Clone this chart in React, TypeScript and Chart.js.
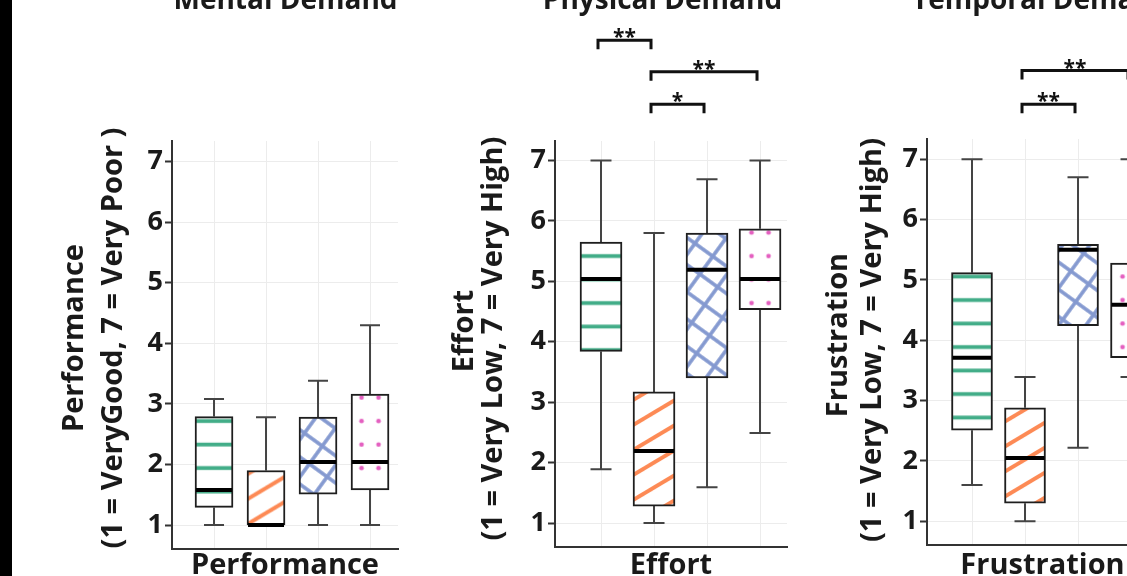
import React, { useEffect, useRef } from 'react';
import { Chart, registerables } from 'chart.js';

Chart.register(...registerables);

// ---------- data ----------
const groups = [1, 2, 3, 4];
const yTickValues = [1, 2, 3, 4, 5, 6, 7];

const panelTitles = ['Mental Demand', 'Physical Demand', 'Temporal Demand'];
const xTitles = ['Performance', 'Effort', 'Frustration'];
const yTitleLine1 = ['Performance', 'Effort', 'Frustration'];
const yTitleLine2 = [
  '(1 = VeryGood, 7 = Very Poor )',
  '(1 = Very Low, 7 = Very High)',
  '(1 = Very Low, 7 = Very High)',
];

const performanceMin = [1.0, 1.0, 1.0, 1.0];
const performanceQ1 = [1.29, 1.0, 1.51, 1.58];
const performanceMedian = [1.58, 1.0, 2.04, 2.04];
const performanceQ3 = [2.79, 1.9, 2.78, 3.16];
const performanceMax = [3.08, 2.78, 3.38, 4.3];

const effortMin = [1.89, 1.0, 1.59, 2.49];
const effortQ1 = [3.84, 1.28, 3.4, 4.53];
const effortMedian = [5.04, 2.19, 5.19, 5.04];
const effortQ3 = [5.65, 3.17, 5.8, 5.87];
const effortMax = [7.0, 5.8, 6.69, 7.0];

const frustrationMin = [1.6, 1.0, 2.22, 3.39];
const frustrationQ1 = [2.51, 1.3, 4.24, 3.71];
const frustrationMedian = [3.71, 2.05, 5.5, 4.59];
const frustrationQ3 = [5.12, 2.88, 5.59, 5.28];
const frustrationMax = [7.0, 3.39, 6.7, 7.0];

// significance brackets: [from group, to group, level (axis units), label]
const performanceBrackets: [number, number, number, string][] = [];
const effortBrackets: [number, number, number, string][] = [
  [1, 2, 8.99, '**'],
  [2, 4, 8.47, '**'],
  [2, 3, 7.93, '*'],
];
const frustrationBrackets: [number, number, number, string][] = [
  [2, 4, 8.47, '**'],
  [2, 3, 7.91, '**'],
];

// ---------- styling / layout ----------
const FONT = "'Open Sans', 'DejaVu Sans', sans-serif";
const TEXT = '#1a1a1a';
const AXIS = '#333333';
const GRID = '#ececec';
const WHISKER = '#444444';
const BORDER = '#1e1e1e';
const GREEN = '#42ad88';
const ORANGE = '#fd8a55';
const BLUE = '#8499d0';
const PINK = '#e45fc0';
const CANVAS_W = 1300;
const CANVAS_H = 620;

type Stats = { min: number[]; q1: number[]; med: number[]; q3: number[]; max: number[] };

interface PanelCfg {
  stats: Stats;
  brackets: [number, number, number, string][];
  title: string;
  titleX: number;
  titleAlign: CanvasTextAlign;
  xTitle: string;
  y1: string;
  y2: string;
  y1X: number;
  y2X: number;
  y1Y: number;
  y2Y: number;
  chartLeft: number;
  chartRight: number;
  chartTop: number;
  chartBottom: number;
  xMin: number;
  xMax: number;
  yMin: number;
  yMax: number;
  barPx: number;
  capPx: number;
  phase: number;
}

const panels: PanelCfg[] = [
  {
    stats: { min: performanceMin, q1: performanceQ1, med: performanceMedian, q3: performanceQ3, max: performanceMax },
    brackets: performanceBrackets,
    title: panelTitles[0], titleX: 285.5, titleAlign: 'center',
    xTitle: xTitles[0], y1: yTitleLine1[0], y2: yTitleLine2[0],
    y1X: 83, y2X: 121.5, y1Y: 338, y2Y: 338,
    chartLeft: 172, chartRight: 398, chartTop: 141, chartBottom: 549,
    xMin: 0.192, xMax: 4.538, yMin: 0.604, yMax: 7.34,
    barPx: 38, capPx: 20, phase: 21.5,
  },
  {
    stats: { min: effortMin, q1: effortQ1, med: effortMedian, q3: effortQ3, max: effortMax },
    brackets: effortBrackets,
    title: panelTitles[1], titleX: 662.5, titleAlign: 'center',
    xTitle: xTitles[1], y1: yTitleLine1[1], y2: yTitleLine2[1],
    y1X: 473, y2X: 502, y1Y: 331, y2Y: 338.6,
    chartLeft: 555, chartRight: 787, chartTop: 141, chartBottom: 547,
    xMin: 0.132, xMax: 4.509, yMin: 0.603, yMax: 7.323,
    barPx: 42, capPx: 21, phase: 21,
  },
  {
    stats: { min: frustrationMin, q1: frustrationQ1, med: frustrationMedian, q3: frustrationQ3, max: frustrationMax },
    brackets: frustrationBrackets,
    title: panelTitles[2], titleX: 912, titleAlign: 'left',
    xTitle: xTitles[2], y1: yTitleLine1[2], y2: yTitleLine2[2],
    y1X: 846.5, y2X: 881, y1Y: 335, y2Y: 340,
    chartLeft: 927, chartRight: 1158, chartTop: 139, chartBottom: 545,
    xMin: 0.151, xMax: 4.509, yMin: 0.606, yMax: 7.336,
    barPx: 41, capPx: 21, phase: 18,
  },
];

// ---------- fill patterns ----------
function makeTile(w: number, h: number, draw: (g: CanvasRenderingContext2D) => void) {
  const c = document.createElement('canvas');
  c.width = w;
  c.height = h;
  const g = c.getContext('2d')!;
  g.fillStyle = '#ffffff';
  g.fillRect(0, 0, w, h);
  draw(g);
  return c;
}

function makePattern(ctx: CanvasRenderingContext2D, kind: number, cx: number, phase: number): CanvasPattern | string {
  let tile: HTMLCanvasElement;
  let m = new DOMMatrix();
  if (kind === 0) {
    tile = makeTile(8, 47, (g) => {
      g.fillStyle = GREEN;
      g.fillRect(0, 11.75 - 1.9, 8, 3.8);
      g.fillRect(0, 35.25 - 1.9, 8, 3.8);
    });
    m = m.translate(0, phase - 11.75);
  } else if (kind === 1) {
    const W = 42;
    const H = 25;
    tile = makeTile(W, H, (g) => {
      g.strokeStyle = ORANGE;
      g.lineWidth = 4;
      for (let k = -2; k <= 2; k++) {
        g.beginPath();
        g.moveTo(-W, 2 * H + k * H);
        g.lineTo(2 * W, -H + k * H);
        g.stroke();
      }
    });
    m = m.translate(cx - 21, phase + 4);
  } else if (kind === 2) {
    const S = 22;
    tile = makeTile(S, S, (g) => {
      g.fillStyle = BLUE;
      g.fillRect(0, S / 2 - 1.8, S, 3.6);
      g.fillRect(S / 2 - 1.8, 0, 3.6, S);
    });
    m = m.translate(cx, phase).rotate(36);
  } else {
    tile = makeTile(17, 47, (g) => {
      g.fillStyle = PINK;
      for (const [x, y] of [[0, 11.75], [17, 11.75], [0, 35.25], [17, 35.25]]) {
        g.beginPath();
        g.arc(x, y, 2.3, 0, Math.PI * 2);
        g.fill();
      }
    });
    m = m.translate(cx - 8.5, phase - 11.75);
  }
  const p = ctx.createPattern(tile, 'repeat');
  if (!p) return '#ffffff';
  p.setTransform(m);
  return p;
}

// ---------- chart config ----------
function buildConfig(cfg: PanelCfg): any {
  const st = cfg.stats;
  const extras = {
    id: 'boxExtras',
    beforeDatasetsDraw(chart: any) {
      const xs = chart.scales.x;
      const ys = chart.scales.y;
      const ctx: CanvasRenderingContext2D = chart.ctx;
      ctx.save();
      ctx.strokeStyle = WHISKER;
      ctx.lineWidth = 2;
      groups.forEach((g, i) => {
        const cx = xs.getPixelForValue(g);
        const yTop = ys.getPixelForValue(st.max[i]);
        const yQ3 = ys.getPixelForValue(st.q3[i]);
        const yQ1 = ys.getPixelForValue(st.q1[i]);
        const yBot = ys.getPixelForValue(st.min[i]);
        ctx.beginPath();
        ctx.moveTo(cx, yQ3);
        ctx.lineTo(cx, yTop);
        ctx.moveTo(cx - cfg.capPx / 2, yTop);
        ctx.lineTo(cx + cfg.capPx / 2, yTop);
        ctx.moveTo(cx, yQ1);
        ctx.lineTo(cx, yBot);
        ctx.moveTo(cx - cfg.capPx / 2, yBot);
        ctx.lineTo(cx + cfg.capPx / 2, yBot);
        ctx.stroke();
      });
      ctx.restore();
    },
    afterDatasetsDraw(chart: any) {
      const xs = chart.scales.x;
      const ys = chart.scales.y;
      const ctx: CanvasRenderingContext2D = chart.ctx;
      ctx.save();
      ctx.strokeStyle = '#000000';
      ctx.lineWidth = 4;
      groups.forEach((g, i) => {
        const cx = xs.getPixelForValue(g);
        const y = ys.getPixelForValue(st.med[i]);
        ctx.beginPath();
        ctx.moveTo(cx - cfg.barPx / 2 + 1, y);
        ctx.lineTo(cx + cfg.barPx / 2 - 1, y);
        ctx.stroke();
      });
      ctx.restore();
    },
    afterDraw(chart: any) {
      const xs = chart.scales.x;
      const ys = chart.scales.y;
      const ctx: CanvasRenderingContext2D = chart.ctx;
      ctx.save();
      // significance brackets
      ctx.strokeStyle = '#111111';
      ctx.fillStyle = '#111111';
      ctx.lineWidth = 3;
      ctx.lineJoin = 'miter';
      ctx.font = `bold 21px ${FONT}`;
      ctx.textAlign = 'center';
      ctx.textBaseline = 'alphabetic';
      cfg.brackets.forEach(([a, b, level, label]) => {
        const x1 = xs.getPixelForValue(a) - 3;
        const x2 = xs.getPixelForValue(b) - 3;
        const y = ys.getPixelForValue(level);
        ctx.beginPath();
        ctx.moveTo(x1, y + 9);
        ctx.lineTo(x1, y);
        ctx.lineTo(x2, y);
        ctx.lineTo(x2, y + 9);
        ctx.stroke();
        ctx.fillText(label, (x1 + x2) / 2, y + 4);
      });
      // panel title (cropped at the top of the figure)
      ctx.fillStyle = TEXT;
      ctx.font = `bold 28px ${FONT}`;
      ctx.textAlign = cfg.titleAlign;
      ctx.fillText(cfg.title, cfg.titleX, 9);
      // y-axis titles (two lines, rotated)
      ctx.font = `bold 29px ${FONT}`;
      ctx.textAlign = 'center';
      ctx.save();
      ctx.translate(cfg.y1X, cfg.y1Y);
      ctx.rotate(-Math.PI / 2);
      ctx.fillText(cfg.y1, 0, 0);
      ctx.restore();
      ctx.save();
      ctx.translate(cfg.y2X, cfg.y2Y);
      ctx.rotate(-Math.PI / 2);
      ctx.fillText(cfg.y2, 0, 0);
      ctx.restore();
      ctx.restore();
    },
  };

  return {
    type: 'bar',
    data: {
      datasets: [
        {
          data: groups.map((g, i) => ({ x: g, y: [st.q1[i], st.q3[i]] })),
          backgroundColor: (c: any) => {
            if (c.type !== 'data' || !c.chart.scales || !c.chart.scales.x) return '#ffffff';
            const cx = c.chart.scales.x.getPixelForValue(groups[c.dataIndex]);
            return makePattern(c.chart.ctx, c.dataIndex, cx, cfg.phase);
          },
          borderColor: BORDER,
          borderWidth: 2,
          borderSkipped: false,
          barThickness: cfg.barPx,
        },
      ],
    },
    options: {
      responsive: false,
      animation: false,
      events: [],
      devicePixelRatio: 1,
      layout: {
        padding: { left: 0, top: cfg.chartTop, right: CANVAS_W - cfg.chartRight, bottom: 0 },
      },
      plugins: { legend: { display: false }, tooltip: { enabled: false }, title: { display: false } },
      scales: {
        x: {
          type: 'linear',
          min: cfg.xMin,
          max: cfg.xMax,
          offset: false,
          afterBuildTicks: (s: any) => {
            s.ticks = groups.map((v) => ({ value: v }));
          },
          afterFit: (s: any) => {
            s.height = CANVAS_H - cfg.chartBottom;
          },
          ticks: { display: false },
          grid: { display: true, color: GRID, lineWidth: 1, drawTicks: false, offset: false },
          border: { display: true, color: AXIS, width: 2 },
          title: {
            display: true,
            text: cfg.xTitle,
            color: TEXT,
            font: { family: FONT, size: 29, weight: 'bold', lineHeight: 1.2 },
            padding: { top: 0, bottom: 37 },
          },
        },
        y: {
          type: 'linear',
          min: cfg.yMin,
          max: cfg.yMax,
          afterBuildTicks: (s: any) => {
            s.ticks = yTickValues.map((v) => ({ value: v }));
          },
          afterFit: (s: any) => {
            s.width = cfg.chartLeft;
          },
          ticks: {
            color: TEXT,
            padding: 2,
            font: { family: FONT, size: 27, weight: 'bold' },
            callback: (v: any) => String(v),
          },
          grid: { color: GRID, lineWidth: 1, tickColor: AXIS, tickLength: 7, tickWidth: 2 },
          border: { display: true, color: AXIS, width: 2 },
          title: { display: false },
        },
      },
    },
    plugins: [extras],
  };
}

function Panel({ cfg }: { cfg: PanelCfg }) {
  const ref = useRef<HTMLCanvasElement | null>(null);
  useEffect(() => {
    const canvas = ref.current;
    if (!canvas) return;
    const chart = new Chart(canvas, buildConfig(cfg));
    return () => chart.destroy();
  }, [cfg]);
  return (
    <canvas
      ref={ref}
      width={CANVAS_W}
      height={CANVAS_H}
      style={{ position: 'absolute', left: 0, top: 0, width: CANVAS_W, height: CANVAS_H }}
    />
  );
}

export default function App() {
  return (
    <div
      style={{
        position: 'fixed',
        left: 0,
        top: 0,
        width: 1127,
        height: 576,
        overflow: 'hidden',
        background: '#ffffff',
      }}
    >
      <div style={{ position: 'absolute', left: 0, top: 0, width: 12, height: 576, background: '#000000' }} />
      {panels.map((p, i) => (
        <Panel key={i} cfg={p} />
      ))}
    </div>
  );
}
